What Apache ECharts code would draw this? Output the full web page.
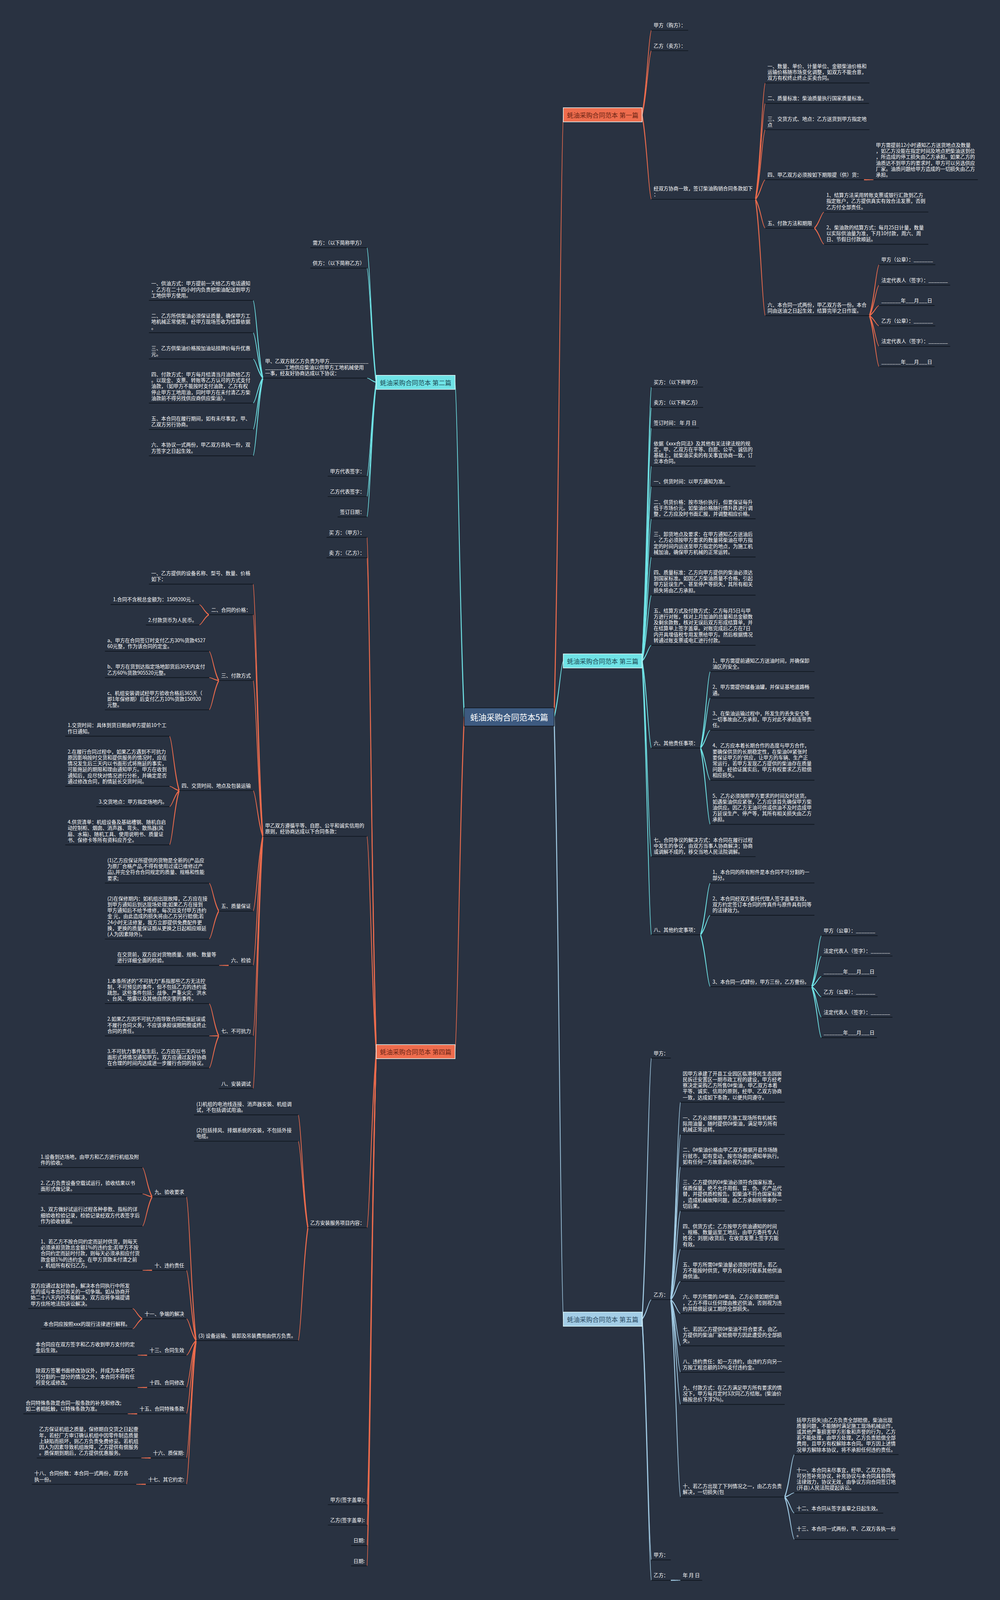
<!DOCTYPE html>
<html><head><meta charset="utf-8">
<style>html,body{margin:0;padding:0;background:#293241;overflow:hidden}</style>
<script src="https://cdn.jsdelivr.net/npm/echarts@6/dist/echarts.min.js"></script>
</head><body><div id="c"></div>
<script>
const rootTitle = '蚝油采购合同范本5篇';
const sign = ['甲方（公章）：_______','法定代表人（签字）：_______','_______年___月___日','乙方（公章）：_______','法定代表人（签字）：_______','_______年___月___日'];

const branchOne = ['蚝油采购合同范本 第一篇', [
  '甲方（购方）：',
  '乙方（卖方）：',
  ['经双方协商一致，签订柴油购销合同条款如下\n：', [
    '一、数量、单价、计量单位、金额柴油价格和\n运输价格随市场变化调整，如双方不能合意，\n双方有权终止终止买卖合同。',
    '二、质量标准：柴油质量执行国家质量标准。',
    '三、交货方式、地点：乙方送货到甲方指定地\n点',
    ['四、甲乙双方必须按如下期限提（供）货：', ['甲方需提前12小时通知乙方送货地点及数量\n，如乙方没能在指定时间及地点把柴油送到位\n，所造成的停工损失由乙方承担。如果乙方的\n油质达不到甲方的要求时，甲方可以另选供应\n厂家。油质问题给甲方造成的一切损失由乙方\n承担。']],
    ['五、付款方法和期限', [
      '1、结算方法采用转账支票或银行汇款到乙方\n指定账户，乙方提供真实有效合法发票，否则\n乙方付全部责任。',
      '2、柴油款的结算方式：每月25日计量，数量\n以实际供油量为准，下月10付款，周六、周\n日、节假日付款顺延。']],
    ['六、本合同一式两份，甲乙双方各一份。本合\n同由送油之日起生效，结算完毕之日作废。', sign]
  ]]
]];

const branchThree = ['蚝油采购合同范本 第三篇', [
  '买方：（以下称甲方）',
  '卖方：（以下称乙方）',
  '签订时间： 年 月 日',
  '依据《xxx合同法》及其他有关法律法规的规\n定，甲、乙双方在平等、自愿、公平、诚信的\n基础上，就柴油买卖的有关事宜协商一致，订\n立本合同。',
  '一、供货时间：以甲方通知为准。',
  '二、供货价格：按市场价执行，但要保证每升\n低于市场价元。如柴油价格随行情升跌进行调\n整，乙方应及时书面汇报，并调整相应价格。',
  '三、卸货地点及要求：在甲方通知乙方送油后\n，乙方必须按甲方要求的数量将柴油在甲方指\n定的时间内运送至甲方指定的地点，为施工机\n械加油，确保甲方机械的正常运转。',
  '四、质量标准：乙方向甲方提供的柴油必须达\n到国家标准。如因乙方柴油质量不合格，引起\n甲方延误生产、甚至停产等损失，其所有相关\n损失将由乙方承担。',
  '五、结算方式及付款方式：乙方每月5日与甲\n方进行对账，核对上月加油的总量和总金额数\n及剩余款数，核对无误后双方形成结算单，并\n在结算单上签字盖章。对账完成后乙方在7日\n内开具增值税专用发票给甲方。然后根据情况\n转通过账支票或电汇进行付款。',
  ['六、其他责任事项：', [
    '1、甲方需提前通知乙方送油时间，并确保卸\n油区的安全。',
    '2、甲方需提供储备油罐，并保证基地道路畅\n通。',
    '3、在柴油运输过程中，所发生的丢失安全等\n一切事故由乙方承担，甲方对此不承担连带责\n任。',
    "4、乙方应本着长期合作的态度与甲方合作，\n要确保供货的长期稳定性，在柴油0#紧张时\n要保证甲方的'供应，让甲方的车辆、生产正\n常运行，若甲方发现乙方提供的柴油存在质量\n问题，经验证属实后，甲方有权要求乙方赔偿\n相应损失。",
    '5、乙方必须按照甲方要求的时间及时送货。\n如遇柴油供应紧张，乙方应该首先确保甲方柴\n油供应。因乙方无油可供或供油不及时造成甲\n方延误生产、停产等，其所有相关损失由乙方\n承担。']],
  '七、合同争议的解决方式：本合同在履行过程\n中发生的争议，由双方当事人协商解决；协商\n或调解不成的，移交当地人民法院调解。',
  ['八、其他约定事项：', [
    '1、本合同的所有附件是本合同不可分割的一\n部分。',
    '2、本合同经双方委托代理人签字盖章生效，\n双方约定签订本合同的传真件与原件具有同等\n的法律效力。',
    ['3、本合同一式肆份，甲方三份，乙方壹份。', sign]]]
]];

const branchFive = ['蚝油采购合同范本 第五篇', [
  '甲方：',
  ['乙方：', [
    '因甲方承建了开县工业园区临港移民生态园居\n民拆迁安置区一期市政工程的建设，甲方经考\n察决定采购乙方所售0#柴油，甲乙双方本着\n平等、诚实、信用的原则，经甲、乙双方协商\n一致，达成如下条款，以便共同遵守。',
    '一、乙方必须根据甲方施工现场所有机械实\n际用油量，随时提供0#柴油，满足甲方所有\n机械正常运转。',
    '二、0#柴油价格由甲乙双方根据开县市场随\n行就市，如有变动，按市场调价通知单执行。\n如有任何一方故意调价视为违约。',
    '三、乙方提供的0#柴油必须符合国家标准，\n保质保量，绝不允许用假、冒、伪、劣产品代\n替，并提供质检报告。如柴油不符合国家标准\n，造成机械故障问题，由乙方承担所带来的一\n切后果。',
    '四、供货方式：乙方按甲方供油通知的时间\n、规格、数量运至工地后，由甲方委托专人(\n姓名：刘朋)收货后，在收货发票上签字方能\n有效。',
    '五、甲方所需0#柴油量必须按时供货，若乙\n方不能按时供货，甲方有权另行联系其他供油\n商供油。',
    '六、甲方所需的.0#柴油，乙方必须如期供油\n，乙方不得以任何理由推迟供油，否则视为违\n约并赔偿延误工期的全部损失。',
    '七、若因乙方提供0#柴油不符合要求，由乙\n方提供的柴油厂家赔偿甲方因此遭受的全部损\n失。',
    '八、违约责任：如一方违约，由违约方向另一\n方按工程总额的10%支付违约金。',
    '九、付款方式：在乙方满足甲方所有要求的情\n况下，甲方每月定时3次同乙方结账。(柴油价\n格按总价下浮2%)。',
    ['十、若乙方出现了下列情况之一，由乙方负责\n解决，一切损失(包', [
      '括甲方损失)由乙方负责全部赔偿，柴油出现\n质量问题，不能随时满足施工现场机械运作，\n或其他严重损害甲方形象和声誉的行为，乙方\n若不能处理，由甲方处理，乙方负责赔偿全部\n费用，且甲方有权解除本合同。甲方因上述情\n况单方解除本协议，将不承担任何违约责任。',
      '十一、本合同未尽事宜，经甲、乙双方协商，\n可另签补充协议，补充协议与本合同具有同等\n法律效力，协议无效，由争议方向合同签订地\n(开县)人民法院提起诉讼。',
      '十二、本合同从签字盖章之日起生效。',
      '十三、本合同一式两份，甲、乙双方各执一份\n。']]]],
  '甲方：',
  ['乙方：', ['年 月 日']]
]];

const branchTwo = ['蚝油采购合同范本 第二篇', [
  '需方：（以下简称甲方）',
  '供方：（以下简称乙方）',
  ['甲、乙双方就乙方负责为甲方______________\n_______工地供应柴油以供甲方工地机械使用\n一事，经友好协商达成以下协议：', [
    '一、供油方式：甲方提前一天给乙方电话通知\n，乙方在二十四小时内负责把柴油配送到甲方\n工地供甲方使用。',
    '二、乙方所供柴油必须保证质量，确保甲方工\n地机械正常使用，经甲方现场签收为结算依据\n。',
    '三、乙方供柴油价格按加油站挂牌价每升优惠\n元。',
    '四、付款方式：甲方每月结清当月油款给乙方\n。以现金、支票、转账等乙方认可的方式支付\n油款，（如甲方不能按时支付油款，乙方有权\n停止甲方工地用油，同时甲方在未付清乙方柴\n油款前不得另找供应商供应柴油）。',
    '五、本合同在履行期间，如有未尽事宜，甲、\n乙双方另行协商。',
    '六、本协议一式两份，甲乙双方各执一份，双\n方签字之日起生效。']],
  '甲方代表签字：',
  '乙方代表签字：',
  '签订日期：'
]];

const branchFour = ['蚝油采购合同范本 第四篇', [
  '买 方：（甲方）：',
  '卖 方：（乙方）：',
  ['甲乙双方遵循平等、自愿、公平和诚实信用的\n原则，经协商达成以下合同条款：', [
    '一、乙方提供的设备名称、型号、数量、价格\n如下：',
    ['二、合同的价格：', ['1.合同不含税总金额为：1509200元 。','2.付款货币为人民币。']],
    ['三、付款方式', [
      'a、甲方在合同签订时支付乙方30%货款4527\n60元整，作为该合同的定金。',
      'b、甲方在货到达指定场地卸货后30天内支付\n乙方60%货款905520元整。',
      'c、机组安装调试经甲方验收合格后365天（\n即1年保修期）后支付乙方10%货款150920\n元整。']],
    ['四、交货时间、地点及包装运输', [
      '1.交货时间：具体到货日期由甲方提前10个工\n作日通知。',
      '2.在履行合同过程中，如果乙方遇到不可抗力\n原因影响按时交货和提供服务的情况时，应在\n情况发生后三天内以书面形式将拖延的事实，\n可能拖延的期限和理由通知甲方。甲方在收到\n通知后，应尽快对情况进行分析，并确定是否\n通过修改合同，酌情延长交货时间。',
      '3.交货地点：甲方指定场地内。',
      '4.供货清单：机组设备及基础槽钢、随机自启\n动控制柜、烟囱、消声器、弯头、散热器(风\n扇、水箱)、随机工具、使用说明书、质量证\n书、保修卡等所有资料应齐全。']],
    ['五、质量保证', [
      '(1)乙方应保证所提供的货物是全新的(产品应\n为原厂合格产品,不得有使用过或已维修过产\n品),并完全符合合同规定的质量、规格和性能\n要求;',
      '(2)在保修期内：如机组出现故障，乙方应在接\n到甲方通知后到达现场处理;如果乙方在接到\n甲方通知后不给予维修，每次应支付甲方违约\n金 元，由此造成的损失将由乙方另行赔偿;若\n24小时无法修复，我方立即提供免费配件更\n换，更换的质量保证期从更换之日起相应顺延\n(人为因素除外)。']],
    ['六、检验', ['在交货前，双方应对货物质量、规格、数量等\n进行详细全面的检验。']],
    ['七、不可抗力', [
      '1.本条所述的"不可抗力"系指那些乙方无法控\n制，不可预见的事件，但不包括乙方的违约或\n疏忽。这些事件包括：战争、严重火灾、洪水\n、台风、地震以及其他自然灾害的事件。',
      '2.如果乙方因不可抗力而导致合同实施延误或\n不履行合同义务，不应该承担误期赔偿或终止\n合同的责任。',
      '3.不可抗力事件发生后，乙方应在三天内以书\n面形式将情况通知甲方。双方应通过友好协商\n在合理的时间内达成进一步履行合同的协议。']],
    '八、安装调试']],
  ['乙方安装服务项目内容：', [
    '(1)机组的电池线连接、消声器安装、机组调\n试，不包括调试用油。',
    '(2)包括排风、排烟系统的安装，不包括外接\n电缆。',
    ['(3) 设备运输、 装卸及吊装费用由供方负责。', [
      ['九、验收要求', [
        '1.设备到达场地，由甲方和乙方进行机组及附\n件的验收。',
        '2. 乙方负责设备空载试运行，验收结果以书\n面形式做记录。',
        '3、双方做好试运行过程各种参数、指标的详\n细验收检验记录，检验记录经双方代表签字后\n作为验收依据。']],
      ['十、违约责任', ['1、若乙方不按合同约定而延时供货，则每天\n必须承担货款总金额1%的违约金;若甲方不按\n合同约定而延时付款，则每天必须承担应付货\n款金额1%的违约金。在甲方货款未付清之前\n，机组所有权归乙方。']],
      ['十一、争端的解决', [
        '双方应通过友好协商，解决本合同执行中所发\n生的或与本合同有关的一切争端。如从协商开\n始二十八天内仍不能解决，双方应将争端提请\n甲方住所地法院诉讼解决。',
        '本合同应按照xxx的现行法律进行解释。']],
      ['十三、合同生效', ['本合同应在双方签字和乙方收到甲方支付的定\n金后生效。']],
      ['十四、合同修改', ['除双方签署书面修改协议外，并成为本合同不\n可分割的一部分的情况之外，本合同不得有任\n何变化或修改。']],
      ['十五、合同特殊条款', ['合同特殊条款是合同一般条款的补充和修改;\n如二者相抵触，以特殊条款为准。']],
      ['十六、质保期:', ['乙方保证机组之质量，保修期自交货之日起壹\n年，若经厂方审订确认机组中因零件制造质量\n上缺陷而损坏，则乙方负责免费修妥。若机组\n因人为因素导致机组故障，乙方提供有偿服务\n。质保期到期后，乙方提供优惠服务。']],
      ['十七、其它约定:', ['十八、合同份数：本合同一式两份，双方各\n执一份。']]]]]],
  '甲方(签字盖章):',
  '乙方(签字盖章):',
  '日期:',
  '日期:'
]];

/* ---------- layout rules (derived from the tree, not stored with the data) ---------- */
const W = 2560, H = 4423;
/* the browser viewport may be shorter than the drawing: the y axis maps the whole height into it */
const VIEW_H = Math.min(window.innerHeight || H, H);
const SY = VIEW_H / H;
const FAM = '"Noto Sans CJK SC","Noto Sans CJK JP",sans-serif';
const NODE_FONT = '12.7px ' + FAM, BOX_FONT = '16.3px ' + FAM, ROOT_FONT = '20.9px ' + FAM;
const LINE = 16.4, PAD_V = 6.5, PAD_H = 6, GAP_Y = 27, GAP_X = 24.5, BOX_GAP = 23.5, WRAP_W = 267, BOX_H = 39;
const ROOT_W = 230, ROOT_H = 50, ROOT_CX = 1303.5, TOP = 54.3;
const mctx = document.createElement('canvas').getContext('2d');
function tw(t, f){ mctx.font = f; return mctx.measureText(t).width; }

function norm(n){ return typeof n === 'string' ? {text:n, kids:[]} : {text:n[0], kids:(n[1]||[]).map(norm)}; }
function shift(n, d){ n.y += d; n.top += d; n.bottom += d; n.kids.forEach(k => shift(k, d)); }
function place(n, side, edge, top){
  const lines = n.text.split('\n');
  n.lines = lines.length;
  n.w = lines.length > 1 ? WRAP_W : tw(n.text, NODE_FONT) + PAD_H * 2;
  n.x0 = side > 0 ? edge : edge - n.w;
  n.x1 = side > 0 ? edge + n.w : edge;
  n.side = side;
  const own = n.lines * LINE + PAD_V * 2;
  if (!n.kids.length){ n.y = top + own; n.top = top; n.bottom = n.y; return n; }
  let cur = top;
  const ce = side > 0 ? n.x1 + GAP_X : n.x0 - GAP_X;
  n.kids.forEach(k => { place(k, side, ce, cur); cur = k.bottom + GAP_Y; });
  let y = (n.kids[0].y + n.kids[n.kids.length-1].y) / 2;
  if (y - own < top){ const d = top - (y - own); n.kids.forEach(k => shift(k, d)); y += d; }
  n.y = y;
  n.top = Math.min(n.kids[0].top, y - own);
  n.bottom = Math.max(n.kids[n.kids.length-1].bottom, y);
  return n;
}
function placeBox(raw, side, edge, top){
  const b = {text:raw[0], kids:raw[1].map(norm), box:true, side};
  b.w = tw(b.text, BOX_FONT) + 19;
  b.x0 = side > 0 ? edge : edge - b.w;
  b.x1 = side > 0 ? edge + b.w : edge;
  const ce = side > 0 ? b.x1 + BOX_GAP : b.x0 - BOX_GAP;
  let cur = top;
  b.kids.forEach(k => { place(k, side, ce, cur); cur = k.bottom + GAP_Y; });
  b.y = (b.kids[0].y + b.kids[b.kids.length-1].y) / 2;
  b.top = top; b.bottom = b.kids[b.kids.length-1].bottom;
  return b;
}
const rootL = ROOT_CX - ROOT_W/2, rootR = ROOT_CX + ROOT_W/2;
let cursor = TOP;
const right = [branchOne, branchThree, branchFive].map(r => { const b = placeBox(r, 1, rootR + BOX_GAP, cursor); cursor = b.bottom + GAP_Y; return b; });
const rootY = (right[0].y + right[2].y) / 2;
cursor = 0;
const left = [branchTwo, branchFour].map(r => { const b = placeBox(r, -1, rootL - BOX_GAP, cursor); cursor = b.bottom + GAP_Y; return b; });
const leftShift = rootY - (left[0].y + left[1].y) / 2;
left.forEach(b => shift(b, leftShift));

function flatten(n, px, py, out){
  out.push(n);
  n.px = px; n.py = py;
  const ex = n.side > 0 ? n.x1 : n.x0;
  n.kids.forEach(k => flatten(k, ex, n.y, out));
  return out;
}
/* ---------- drawing through the axes ---------- */
function taper(p, c){
  const dx = c[0]-p[0], dy = c[1]-p[1];
  const P = [p, [p[0]+dx*.5, p[1]+dy*.3], [p[0]+dx*.7, p[1]+dy*.9], c];
  const a = [], b = [], N = 20;
  for (let i = 0; i <= N; i++){
    const t = i/N, u = 1-t;
    const x = u*u*u*P[0][0]+3*u*u*t*P[1][0]+3*u*t*t*P[2][0]+t*t*t*P[3][0];
    const y = u*u*u*P[0][1]+3*u*u*t*P[1][1]+3*u*t*t*P[2][1]+t*t*t*P[3][1];
    let tx = 3*u*u*(P[1][0]-P[0][0])+6*u*t*(P[2][0]-P[1][0])+3*t*t*(P[3][0]-P[2][0]);
    let ty = 3*u*u*(P[1][1]-P[0][1])+6*u*t*(P[2][1]-P[1][1])+3*t*t*(P[3][1]-P[2][1]);
    const L = Math.hypot(tx,ty)||1; tx/=L; ty/=L;
    const h = (2.8-1.5*t)/2;
    a.push([x-ty*h, y+tx*h]); b.unshift([x+ty*h, y-tx*h]);
  }
  return a.concat(b);
}
function branchSeries(box, lineColor, boxColor, boxText){
  const list = flatten(box, box.side > 0 ? rootR : rootL, rootY, []);
  return {
    type:'custom', name:box.text, coordinateSystem:'cartesian2d', clip:false, silent:true, animation:false,
    encode:{x:0, y:1},
    data: list.map(n => [n.x0, n.y, n.x1, n.px, n.py]),
    renderItem(params, api){
      const n = list[params.dataIndex];
      const a = api.coord([api.value(0), api.value(1)]);
      const b = api.coord([api.value(2), api.value(1)]);
      const p = api.coord([api.value(3), api.value(4)]);
      const end = n.side > 0 ? a : b;
      const kids = [{type:'polygon', z2:1, shape:{points:taper(p, end)}, style:{fill:lineColor}}];
      if (n.box){
        kids.push({type:'rect', z2:6, shape:{x:a[0], y:a[1]-BOX_H*SY/2, width:b[0]-a[0], height:BOX_H*SY}, style:{fill:boxColor, stroke:'#e0fbfc', lineWidth:1.5}});
        kids.push({type:'text', z2:7, style:{text:n.text, x:(a[0]+b[0])/2, y:a[1], align:'center', verticalAlign:'middle', fill:boxText, font:BOX_FONT}});
      } else {
        kids.push({type:'line', z2:2, shape:{x1:a[0], y1:a[1], x2:b[0], y2:b[1]}, style:{stroke:'#0e141c', lineWidth:1.7}});
        kids.push({type:'text', z2:3, style:{text:n.text, x:a[0]+PAD_H, y:a[1]-(PAD_V+n.lines*LINE)*SY, align:'left', verticalAlign:'top', lineHeight:LINE*SY, fill:'#ffffff', font:NODE_FONT}});
      }
      return {type:'group', children:kids};
    }
  };
}
const rootSeries = {
  type:'custom', name:rootTitle, coordinateSystem:'cartesian2d', clip:false, silent:true, animation:false, z:3,
  encode:{x:0, y:1},
  data:[[rootL, rootY, rootR]],
  renderItem(params, api){
    const a = api.coord([api.value(0), api.value(1)]);
    const b = api.coord([api.value(2), api.value(1)]);
    return {type:'group', children:[
      {type:'rect', shape:{x:a[0], y:a[1]-ROOT_H*SY/2, width:b[0]-a[0], height:ROOT_H*SY}, style:{fill:'#3d5a80', stroke:'#10151d', lineWidth:1.5}},
      {type:'text', style:{text:rootTitle, x:(a[0]+b[0])/2, y:a[1], align:'center', verticalAlign:'middle', fill:'#ffffff', font:ROOT_FONT}}
    ]};
  }
};
const el = document.getElementById('c');
el.style.width = W + 'px'; el.style.height = VIEW_H + 'px';
const chart = echarts.init(el, null, {width:W, height:VIEW_H, renderer:'svg'});
chart.setOption({
  backgroundColor:'#293241', animation:false,
  grid:{left:0, right:0, top:0, bottom:0},
  xAxis:{type:'value', min:0, max:W, show:false},
  yAxis:{type:'value', min:0, max:H, inverse:true, show:false},
  series:[
    branchSeries(right[0], '#ee6c4d', '#ee6c4d', '#6b2414'),
    branchSeries(right[1], '#6fe3e6', '#6fe3e6', '#1c4a55'),
    branchSeries(right[2], '#a3cde6', '#a3cde6', '#2a4a62'),
    branchSeries(left[0], '#6fe3e6', '#6fe3e6', '#1c4a55'),
    branchSeries(left[1], '#ee6c4d', '#ee6c4d', '#6b2414'),
    rootSeries
  ]
});
</script></body></html>
